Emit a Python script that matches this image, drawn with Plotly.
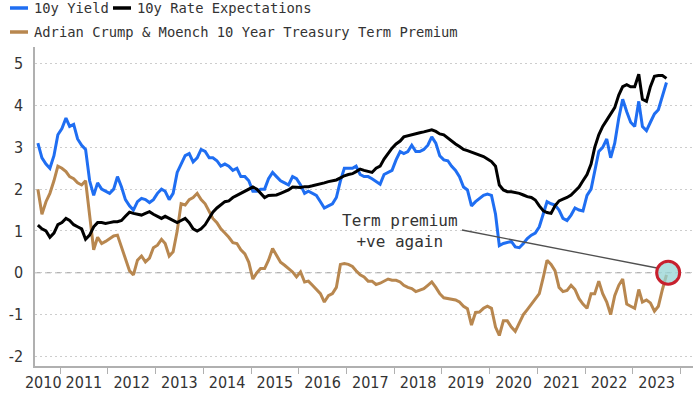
import pandas as pd
import plotly.graph_objects as go

# Monthly observations, Jul-2010 .. Sep-2023 (mid-month)
dates = pd.date_range("2010-07-01", "2023-09-01", freq="MS") + pd.Timedelta(days=14)

yield_10y = [
    3.1, 2.75, 2.6, 2.5, 2.8, 3.3,
    3.45, 3.7, 3.5, 3.55, 3.2, 3.05, 2.95, 2.2, 1.85, 2.15, 2.0, 1.95,
    1.9, 2.0, 2.3, 2.05, 1.75, 1.6, 1.5, 1.7, 1.78, 1.75, 1.68, 1.75,
    1.9, 2.0, 1.95, 1.75, 1.9, 2.4, 2.6, 2.8, 2.85, 2.65, 2.75, 2.95,
    2.9, 2.75, 2.75, 2.68, 2.55, 2.6, 2.55, 2.45, 2.5, 2.3, 2.3, 2.2,
    1.95, 1.95, 2.0, 2.0, 2.25, 2.4, 2.3, 2.2, 2.15, 2.1, 2.3, 2.25,
    2.1, 1.9, 1.95, 1.9, 1.85, 1.7, 1.55, 1.6, 1.65, 1.8, 2.2, 2.5,
    2.5, 2.5, 2.55, 2.35, 2.3, 2.3, 2.25, 2.18, 2.12, 2.35, 2.4, 2.45,
    2.7, 2.9, 2.85, 2.9, 3.05, 2.9, 2.9, 2.95, 3.05, 3.25, 3.1, 2.8,
    2.7, 2.68, 2.55, 2.45, 2.3, 2.05, 1.98, 1.6, 1.7, 1.78, 1.85, 1.88,
    1.85, 1.4, 0.65, 0.7, 0.72, 0.75, 0.62, 0.6, 0.7, 0.82, 0.9, 0.95,
    1.1, 1.4, 1.7, 1.65, 1.62, 1.5, 1.3, 1.25, 1.38, 1.55, 1.5, 1.48,
    1.85, 2.0, 2.4, 2.9, 3.0, 3.2, 2.75, 3.1, 3.7, 4.15, 3.85, 3.6,
    3.5, 4.1, 3.5, 3.4, 3.6, 3.8, 3.9, 4.2, 4.55,
]

rate_expectations = [
    1.14, 1.05, 1.0, 0.85, 0.95, 1.15,
    1.2, 1.3, 1.25, 1.15, 1.1, 1.05, 0.8, 0.9, 1.1, 1.2, 1.2, 1.18,
    1.2, 1.22, 1.22, 1.25, 1.35, 1.45, 1.42, 1.4, 1.38, 1.42, 1.46, 1.4,
    1.35, 1.3, 1.35, 1.3, 1.25, 1.2, 1.25, 1.3, 1.2, 1.05, 1.0, 1.05,
    1.15, 1.3, 1.45, 1.55, 1.62, 1.7, 1.72, 1.8, 1.85, 1.9, 1.95, 2.0,
    2.05, 2.0, 1.9, 1.8, 1.85, 1.86, 1.86, 1.9, 1.94, 1.98, 2.05, 2.04,
    2.04, 2.06, 2.06, 2.08, 2.1, 2.12, 2.15, 2.18, 2.2, 2.22, 2.27, 2.32,
    2.35, 2.37, 2.42, 2.48, 2.45, 2.42, 2.4, 2.5, 2.55, 2.72, 2.85, 2.98,
    3.08, 3.15, 3.25, 3.28, 3.3, 3.33, 3.35, 3.37, 3.4, 3.42, 3.38, 3.32,
    3.3, 3.22, 3.14, 3.08, 3.02, 2.95, 2.92, 2.88, 2.84, 2.82, 2.78, 2.72,
    2.66, 2.55, 2.1, 1.98, 1.94, 1.94, 1.92, 1.9, 1.86, 1.82, 1.8, 1.74,
    1.6, 1.48, 1.44, 1.42, 1.6, 1.72, 1.76, 1.8, 1.86, 1.95, 2.05, 2.2,
    2.35, 2.6, 3.0, 3.3, 3.5, 3.65, 3.8, 3.95, 4.25, 4.45, 4.5, 4.45,
    4.45, 4.75, 4.15, 4.1, 4.45, 4.7, 4.72, 4.72, 4.65,
]

term_premium = [
    2.0, 1.4, 1.7, 1.9, 2.2, 2.55,
    2.5, 2.42, 2.3, 2.25, 2.15, 2.1, 2.2, 1.3, 0.55, 0.85, 0.7, 0.75,
    0.82, 0.88, 0.9, 0.6, 0.3, 0.05, -0.05, 0.3, 0.4, 0.26, 0.35, 0.6,
    0.66, 0.8, 0.7, 0.4, 0.5, 1.0, 1.65, 1.62, 1.75, 1.8, 1.9, 1.75,
    1.65, 1.45, 1.3, 1.2, 1.05, 0.95, 0.85, 0.72, 0.7, 0.55, 0.45, 0.25,
    -0.15, 0.0, 0.1, 0.1, 0.3, 0.58, 0.4, 0.25, 0.18, 0.1, 0.02, -0.1,
    0.02, -0.22, -0.2, -0.3, -0.4, -0.5, -0.7, -0.55, -0.5, -0.35, 0.2, 0.22,
    0.2, 0.15, 0.05, -0.05, -0.1, -0.2, -0.2, -0.28, -0.25, -0.2, -0.15, -0.18,
    -0.18, -0.22, -0.3, -0.35, -0.38, -0.45, -0.42, -0.38, -0.3, -0.22, -0.35, -0.5,
    -0.6, -0.62, -0.62, -0.65, -0.7, -0.8, -0.86, -1.25, -0.95, -0.94, -0.85, -0.8,
    -0.85, -1.3, -1.5, -1.15, -1.15, -1.3, -1.4, -1.2, -1.0, -0.88, -0.75, -0.65,
    -0.5, -0.1, 0.3, 0.2, 0.05, -0.35, -0.45, -0.42, -0.3, -0.4, -0.62, -0.75,
    -0.85, -0.5, -0.5, -0.2, -0.5, -0.7, -1.0, -0.55, -0.3, -0.15, -0.75, -0.8,
    -0.85, -0.4, -0.7, -0.65, -0.72, -0.92, -0.8, -0.4, -0.05,
]

year_labels = [str(y) for y in range(2010, 2024)]
y_ticks = [5, 4, 3, 2, 1, 0, -1, -2]

BLUE = "#1f6ef2"
BLACK = "#000000"
BROWN = "#b8874f"

fig = go.Figure()
fig.add_trace(go.Scatter(x=dates, y=term_premium, mode="lines",
                         line=dict(color=BROWN, width=3), name="Adrian Crump & Moench 10 Year Treasury Term Premium"))
fig.add_trace(go.Scatter(x=dates, y=yield_10y, mode="lines",
                         line=dict(color=BLUE, width=3), name="10y Yield"))
fig.add_trace(go.Scatter(x=dates, y=rate_expectations, mode="lines",
                         line=dict(color=BLACK, width=3), name="10y Rate Expectations"))

# plot area in pixels: x 35..693, y 47..366
W, H = 700, 394
L, R, T, B = 35, 7, 47, 28
pw, ph = W - L - R, H - T - B

def px(x):
    return (x - L) / pw

def py(y):
    return (H - B - y) / ph

label_pos = [pd.Timestamp("2010-08-25")] + [pd.Timestamp(f"{y}-07-02") for y in range(2011, 2024)]
year_starts = [pd.Timestamp(f"{y}-01-01") for y in range(2011, 2025)]

tick_font = dict(family="DejaVu Sans Condensed, Liberation Sans, sans-serif", size=16, color="#333333")
mono = "DejaVu Sans Mono, Liberation Mono, monospace"

fig.update_layout(
    width=W, height=H,
    margin=dict(l=L, r=R, t=T, b=B, autoexpand=False),
    paper_bgcolor="white", plot_bgcolor="white",
    showlegend=False,
    xaxis=dict(
        type="date", automargin=False,
        range=["2010-06-23", "2024-04-05"],
        tickmode="array", tickvals=label_pos, ticktext=year_labels,
        ticks="", showgrid=False, zeroline=False,
        showline=True, linecolor="#b0b0b0", linewidth=1.5,
        tickfont=tick_font, ticklabelstandoff=1,
        minor=dict(tickmode="array", tickvals=year_starts, ticks="outside",
                   ticklen=6, tickcolor="#b0b0b0", tickwidth=1, showgrid=False),
    ),
    yaxis=dict(
        automargin=False,
        range=[-2.23, 5.4],
        tickmode="array", tickvals=y_ticks, ticktext=[str(v) for v in y_ticks],
        showgrid=True, gridcolor="#cdcdcd", griddash="2px,3px", gridwidth=1,
        zeroline=False, showline=True, linecolor="#b0b0b0", linewidth=1.5,
        ticks="", ticklabelstandoff=7,
        tickfont=tick_font,
    ),
)

# dashed zero line (mask the dotted grid line underneath first)
fig.add_shape(type="line", xref="paper", yref="y", x0=0, x1=1, y0=0, y1=0,
              line=dict(color="white", width=2), layer="between")
fig.add_shape(type="line", xref="paper", yref="y", x0=0, x1=1, y0=0, y1=0,
              line=dict(color="#9a9a9a", width=1.2, dash="6px,4px"), layer="between")

# manual legend
legend_rows = [
    (10, 28, 8, BLUE, 32, "10y Yield"),
    (113, 131, 8, BLACK, 135, "10y Rate Expectations"),
    (10, 28, 32, BROWN, 32, "Adrian Crump & Moench 10 Year Treasury Term Premium"),
]
for x0, x1, yy, col, tx, txt in legend_rows:
    fig.add_shape(type="line", xref="paper", yref="paper",
                  x0=px(x0), x1=px(x1), y0=py(yy), y1=py(yy),
                  line=dict(color=col, width=3.5))
    fig.add_annotation(xref="paper", yref="paper", x=px(tx), y=py(yy),
                       xanchor="left", yanchor="middle", showarrow=False,
                       text=txt, font=dict(family=mono, size=13.8, color="#333333"))

# annotation
fig.add_annotation(xref="paper", yref="paper", x=px(400), y=py(231),
                   xanchor="center", yanchor="middle", showarrow=False, align="center",
                   text="Term premium<br>+ve again",
                   font=dict(family=mono, size=16, color="#333333"))
fig.add_shape(type="line", xref="paper", yref="paper",
              x0=px(462), y0=py(230), x1=px(657), y1=py(268),
              line=dict(color="#505050", width=1.3))
fig.add_shape(type="circle", xref="x", yref="y", xsizemode="pixel", ysizemode="pixel",
              xanchor="2023-09-28", yanchor=0, x0=-11.5, x1=11.5, y0=-11.5, y1=11.5,
              line=dict(color="#c8202e", width=3), fillcolor="rgba(150,212,212,0.75)")

fig.write_html("out.html", config={"displayModeBar": False},
               post_script="document.body.style.margin='0';document.body.style.overflow='hidden';")
